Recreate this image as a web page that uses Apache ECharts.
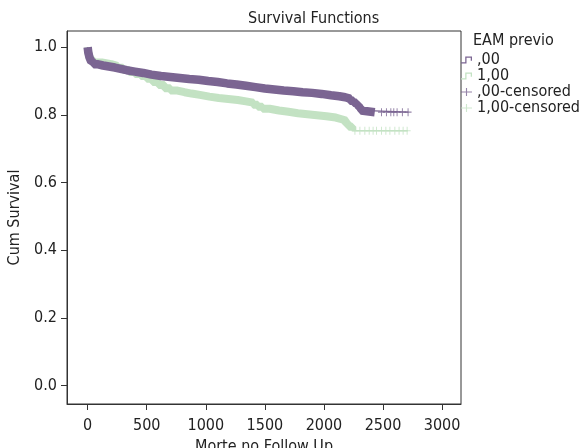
<!DOCTYPE html>
<html>
<head>
<meta charset="utf-8">
<script src="https://cdn.jsdelivr.net/npm/echarts@6/dist/echarts.min.js"></script>
<style>
  html, body { margin: 0; padding: 0; background: #fff; }
  #chart { width: 588px; height: 448px; }
</style>
</head>
<body>
<div id="chart"></div>
<script>
// Kaplan-Meier steps (time, cum survival), EAM previo = ,00
const timesA = [0, 5, 15, 30, 50, 80, 130, 180, 230, 280, 330, 400, 470, 540, 620, 700, 780, 860, 940, 1020, 1100, 1180, 1260, 1340, 1420, 1500, 1580, 1660, 1740, 1820, 1900, 1980, 2060, 2130, 2180, 2220, 2250, 2275, 2295, 2315, 2330, 2715];
const survA  = [1.0, 0.985, 0.97, 0.958, 0.95, 0.946, 0.943, 0.940, 0.936, 0.932, 0.928, 0.924, 0.919, 0.915, 0.912, 0.909, 0.906, 0.904, 0.900, 0.897, 0.893, 0.890, 0.886, 0.882, 0.878, 0.875, 0.872, 0.870, 0.867, 0.865, 0.862, 0.858, 0.855, 0.852, 0.848, 0.842, 0.836, 0.829, 0.821, 0.813, 0.808, 0.808];
// EAM previo = 1,00
const timesB = [0, 5, 15, 30, 50, 120, 200, 250, 300, 350, 400, 450, 500, 550, 600, 650, 700, 760, 820, 880, 950, 1030, 1110, 1190, 1270, 1340, 1400, 1440, 1480, 1540, 1620, 1700, 1780, 1860, 1940, 2020, 2100, 2150, 2185, 2210, 2240, 2710];
const survB  = [1.0, 0.985, 0.972, 0.962, 0.955, 0.950, 0.945, 0.939, 0.933, 0.927, 0.921, 0.915, 0.907, 0.897, 0.888, 0.879, 0.872, 0.867, 0.863, 0.859, 0.854, 0.850, 0.847, 0.844, 0.840, 0.836, 0.830, 0.824, 0.818, 0.813, 0.809, 0.805, 0.802, 0.799, 0.796, 0.792, 0.787, 0.783, 0.774, 0.765, 0.753, 0.753];
// censored times after the dense part of each curve
const censA = [2487, 2529, 2566, 2591, 2619, 2664, 2712];
const censB = [2262, 2304, 2346, 2383, 2416, 2445, 2487, 2524, 2558, 2600, 2636, 2670, 2704];
// up to here the censoring marks merge into a solid band
const denseEndA = 2430;
const denseEndB = 2245;

const xTicks = [0, 500, 1000, 1500, 2000, 2500, 3000];
const yTicks = [0, 0.2, 0.4, 0.6, 0.8, 1.0];

const colA = '#7b6592';
const colB = '#c3e2c3';
const font = '"DejaVu Sans Condensed", "Liberation Sans Narrow", sans-serif';
const ink = '#222';

const pairs = (ts, ss) => ts.map((t, i) => [t, ss[i]]);
const survAt = (ts, ss, t) => {
  let s = ss[0];
  for (let i = 0; i < ts.length; i++) if (ts[i] <= t) s = ss[i];
  return s;
};
const band = (ts, ss, end) => {
  const d = pairs(ts, ss).filter(p => p[0] <= end);
  d.push([end, survAt(ts, ss, end)]);
  return d;
};

const stepIcon = 'path://M0,8L6.5,8L6.5,9.5L0,9.5Z M5,1L6.5,1L6.5,9.5L5,9.5Z M5,1L13,1L13,2.5L5,2.5Z M11.5,1L13,1L13,6L11.5,6Z';
const crossIcon = 'path://M0,4.3L14,4.3L14,5.7L0,5.7Z M6.3,0L7.7,0L7.7,10L6.3,10Z';
const crossMark = 'path://M0,4.3L10,4.3L10,5.7L0,5.7Z M4.3,0L5.7,0L5.7,10L4.3,10Z';

const chart = echarts.init(document.getElementById('chart'));
chart.setOption({
  animation: false,
  textStyle: { fontFamily: font },
  title: [
    { text: 'Survival Functions', left: 248, top: 11, padding: 0,
      textStyle: { fontFamily: font, fontSize: 16, fontWeight: 'normal', color: ink } },
    { text: 'EAM previo', left: 473, top: 33, padding: 0,
      textStyle: { fontFamily: font, fontSize: 16, fontWeight: 'normal', color: ink } }
  ],
  legend: {
    orient: 'vertical',
    left: 461,
    top: 52,
    padding: 0,
    itemGap: 0,
    itemWidth: 11,
    itemHeight: 9,
    textStyle: { fontFamily: font, fontSize: 16, color: ink, lineHeight: 16 },
    data: [
      { name: ',00', icon: stepIcon },
      { name: '1,00', icon: stepIcon },
      { name: ',00-censored', icon: crossIcon },
      { name: '1,00-censored', icon: crossIcon }
    ]
  },
  grid: { left: 67, top: 31, width: 394, height: 373, outerBoundsMode: 'none',
    show: true, borderColor: '#333', borderWidth: 1 },
  xAxis: {
    type: 'value', min: -175, max: 3160,
    name: 'Morte no Follow Up', nameLocation: 'middle', nameGap: 29,
    nameTextStyle: { fontFamily: font, fontSize: 16, color: ink },
    axisLine: { onZero: false, lineStyle: { color: '#333' } },
    axisTick: { show: true, length: 6, lineStyle: { color: '#333' }, customValues: xTicks },
    axisLabel: { customValues: xTicks, margin: 14, fontFamily: font, fontSize: 16, color: ink,
      formatter: v => String(v) },
    splitLine: { show: false }
  },
  yAxis: {
    type: 'value', min: -0.055, max: 1.048,
    name: 'Cum Survival', nameLocation: 'middle', nameGap: 43,
    nameTextStyle: { fontFamily: font, fontSize: 16, color: ink },
    axisLine: { show: true, onZero: false, lineStyle: { color: '#333' } },
    axisTick: { show: true, length: 6, lineStyle: { color: '#333' }, customValues: yTicks },
    axisLabel: { customValues: yTicks, margin: 10, fontFamily: font, fontSize: 16, color: ink,
      formatter: v => v.toFixed(1) },
    splitLine: { show: false }
  },
  series: [
    { name: '1,00-band', type: 'line', step: 'end', showSymbol: false, silent: true,
      data: band(timesB, survB, denseEndB), lineStyle: { color: colB, width: 8 }, itemStyle: { color: colB } },
    { name: '1,00', type: 'line', step: 'end', showSymbol: false,
      data: pairs(timesB, survB), lineStyle: { color: colB, width: 1.3 }, itemStyle: { color: colB } },
    { name: '1,00-censored', type: 'scatter', symbol: crossMark, symbolSize: [7, 8],
      data: censB.map(t => [t, survAt(timesB, survB, t)]), itemStyle: { color: colB } },
    { name: ',00-band', type: 'line', step: 'end', showSymbol: false, silent: true,
      data: band(timesA, survA, denseEndA), lineStyle: { color: colA, width: 8.5 }, itemStyle: { color: colA } },
    { name: ',00', type: 'line', step: 'end', showSymbol: false,
      data: pairs(timesA, survA), lineStyle: { color: colA, width: 1.3 }, itemStyle: { color: colA } },
    { name: ',00-censored', type: 'scatter', symbol: crossMark, symbolSize: [7, 8],
      data: censA.map(t => [t, survAt(timesA, survA, t)]), itemStyle: { color: colA } }
  ]
});
</script>
</body>
</html>
